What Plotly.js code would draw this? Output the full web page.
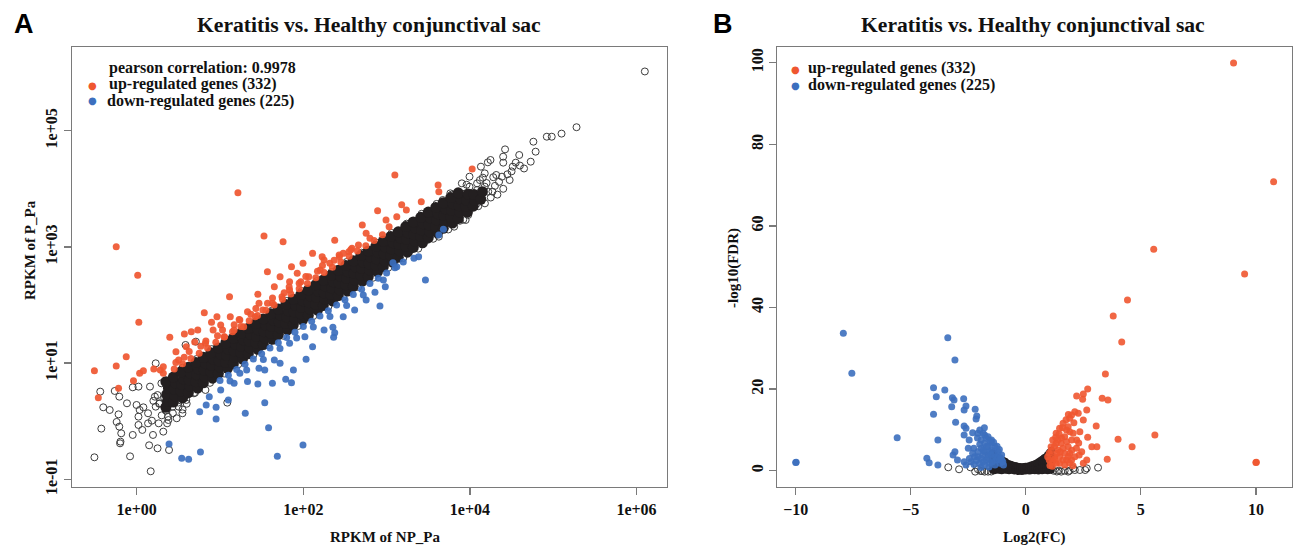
<!DOCTYPE html>
<html><head><meta charset="utf-8">
<script src="https://cdn.plot.ly/plotly-3.0.1.min.js"></script>
<style>html,body{margin:0;padding:0;background:#fff}#chart{width:1294px;height:548px}</style>
</head><body><div id="chart"></div>
<script>
// ---------- Panel A: [log10(RPKM of NP_Pa), log10(RPKM of P_Pa)] ----------
const denseA = [
[0.35,0.24],[0.37,0.35],[0.36,0.46],[0.38,0.57],[0.35,0.68],
[0.44,0.33],[0.46,0.43],[0.45,0.55],[0.47,0.65],[0.44,0.76],
[0.55,0.40],[0.53,0.52],[0.54,0.63],[0.56,0.73],[0.53,0.85],
[0.62,0.49],[0.64,0.60],[0.63,0.71],[0.65,0.82],[0.62,0.93],
[0.73,0.57],[0.71,0.68],[0.72,0.80],[0.74,0.90],[0.71,1.01],
[0.80,0.66],[0.82,0.76],[0.81,0.88],[0.83,0.99],[0.80,1.10],
[0.91,0.74],[0.89,0.85],[0.90,0.96],[0.92,1.07],[0.89,1.18],
[0.98,0.82],[1.00,0.93],[0.99,1.04],[1.01,1.15],[0.98,1.26],
[1.09,0.91],[1.07,1.01],[1.08,1.13],[1.10,1.24],[1.07,1.35],
[1.16,0.99],[1.18,1.10],[1.17,1.21],[1.19,1.32],[1.16,1.43],
[1.27,1.07],[1.25,1.18],[1.26,1.29],[1.28,1.40],[1.25,1.51],
[1.34,1.16],[1.36,1.26],[1.35,1.38],[1.37,1.49],[1.34,1.60],
[1.45,1.24],[1.43,1.35],[1.44,1.46],[1.46,1.57],[1.43,1.68],
[1.52,1.32],[1.54,1.43],[1.53,1.54],[1.55,1.65],[1.52,1.76],
[1.63,1.41],[1.61,1.51],[1.62,1.63],[1.64,1.74],[1.61,1.85],
[1.70,1.49],[1.72,1.60],[1.71,1.71],[1.73,1.82],[1.70,1.93],
[1.81,1.57],[1.79,1.68],[1.80,1.79],[1.82,1.90],[1.79,2.01],
[1.88,1.66],[1.90,1.76],[1.89,1.88],[1.91,1.99],[1.88,2.10],
[1.99,1.74],[1.97,1.85],[1.98,1.96],[2.00,2.07],[1.97,2.18],
[2.06,1.82],[2.08,1.93],[2.07,2.04],[2.09,2.15],[2.06,2.26],
[2.17,1.91],[2.15,2.01],[2.16,2.13],[2.18,2.24],[2.15,2.35],
[2.24,1.99],[2.26,2.10],[2.25,2.21],[2.27,2.32],[2.24,2.43],
[2.35,2.07],[2.33,2.18],[2.34,2.29],[2.36,2.40],[2.33,2.51],
[2.42,2.16],[2.44,2.26],[2.43,2.38],[2.45,2.49],[2.42,2.60],
[2.53,2.24],[2.51,2.35],[2.52,2.46],[2.54,2.57],[2.51,2.68],
[2.60,2.32],[2.62,2.43],[2.61,2.54],[2.63,2.65],[2.60,2.76],
[2.71,2.41],[2.69,2.51],[2.70,2.63],[2.72,2.74],[2.69,2.85],
[2.78,2.49],[2.80,2.60],[2.79,2.71],[2.81,2.82],[2.78,2.93],
[2.89,2.57],[2.87,2.68],[2.88,2.79],[2.90,2.90],[2.87,3.01],
[2.96,2.66],[2.98,2.76],[2.97,2.88],[2.99,2.99],[2.96,3.10],
[3.07,2.74],[3.05,2.85],[3.06,2.96],[3.08,3.07],[3.05,3.18],
[3.14,2.82],[3.16,2.93],[3.15,3.04],[3.17,3.15],[3.14,3.26],
[3.25,2.91],[3.23,3.01],[3.24,3.13],[3.26,3.24],[3.23,3.35],
[3.32,2.99],[3.34,3.10],[3.33,3.21],[3.35,3.32],[3.32,3.43],
[3.43,3.07],[3.41,3.18],[3.42,3.29],[3.44,3.40],[3.41,3.51],
[3.50,3.16],[3.52,3.26],[3.51,3.38],[3.53,3.49],[3.50,3.60],
[3.61,3.24],[3.59,3.35],[3.60,3.46],[3.62,3.57],[3.59,3.68],
[3.68,3.32],[3.70,3.43],[3.69,3.54],[3.71,3.65],[3.68,3.76],
[3.79,3.41],[3.77,3.51],[3.78,3.63],[3.80,3.74],[3.77,3.85],
[3.86,3.49],[3.88,3.60],[3.87,3.71],[3.89,3.82],[3.86,3.93],
[3.97,3.60],[3.95,3.70],[3.96,3.80],[3.98,3.91],
[4.04,3.70],[4.06,3.80],[4.05,3.90],[4.13,3.82],[4.15,3.95]
];
const openA = [
[-0.508,-0.622],[-0.080,-0.605],[0.168,-0.863],[-0.425,-0.128],[-0.200,-0.381],[0.149,-0.415],
[0.250,-0.467],[0.388,-0.496],[-0.438,0.509],[-0.264,0.520],[-0.209,0.422],[-0.402,0.239],
[-0.324,0.193],[-0.218,0.118],[-0.241,-0.013],[-0.209,-0.094],[-0.186,-0.209],[-0.195,-0.352],
[-0.048,0.583],[0.021,0.595],[-0.048,-0.237],[0.021,-0.065],[0.035,0.193],[0.080,0.239],
[0.136,0.136],[0.182,0.009],[0.195,-0.237],[0.264,-0.037],[0.218,0.422],[0.228,0.996],
[0.586,1.312],[0.710,1.369],[0.375,0.078],[0.434,0.136],[1.087,0.319],[0.159,0.595],
[0.296,0.652],[0.021,0.078],[-0.117,0.308],[0.067,-0.151],[0.319,-0.180],[0.457,0.422],
[0.503,0.250],[0.595,0.365],[0.365,-0.037],[0.687,0.480],[0.825,0.537],[0.136,-0.037],
[0.549,0.136],[-0.002,0.279],[0.273,0.308],[0.228,0.250],
[0.30,0.10],[0.35,0.18],[0.27,0.30],[0.33,0.40],[0.43,0.25],[0.50,0.32],[0.25,0.45],
[0.20,0.35],[0.40,0.55],[0.45,0.45],[0.38,0.02],[0.48,0.05],[0.55,0.20],[0.60,0.30],
[0.70,0.49],[0.88,0.66],[1.05,0.82],[1.22,0.98],[1.40,1.14],[1.58,1.31],[1.76,1.47],
[1.94,1.64],[2.12,1.81],[2.30,1.97],[2.48,2.14],[2.66,2.31],[2.84,2.47],[3.02,2.64],
[3.20,2.81],[3.38,2.97],[3.56,3.14],[3.74,3.30],[3.92,3.47],
[0.55,0.92],[0.72,1.07],[0.90,1.24],[1.08,1.40],[1.26,1.57],[1.44,1.74],[1.62,1.90],
[1.80,2.07],[1.98,2.24],[2.16,2.41],[2.34,2.57],[2.52,2.74],[2.70,2.90],[2.88,3.07],
[3.06,3.24],[3.24,3.40],[3.42,3.57],[3.60,3.74],[3.78,3.90],[3.96,4.07],
[3.443,3.291],[3.581,3.406],[3.673,3.578],[3.765,3.693],[3.857,3.865],[3.949,3.922],
[3.995,4.037],[4.086,4.094],[4.132,4.381],[4.215,4.456],[4.247,4.496],[4.155,4.192],
[4.270,3.951],[4.316,4.238],[4.385,4.209],[4.477,4.151],[4.422,4.679],[4.399,4.553],
[4.514,4.381],[4.592,4.582],[4.730,4.467],[4.762,4.811],[4.789,4.639],[4.923,4.897],
[4.982,4.897],[4.041,3.807],[3.949,3.693],[3.857,3.578],[3.719,3.463],[4.086,3.979],
[4.178,4.037],[3.903,4.094],[3.995,4.209],[4.178,4.266],[3.765,3.922],[3.673,3.807],
[3.627,3.176],[3.489,3.119],[3.811,3.348],[3.949,3.463],[4.086,3.750],
[4.22,3.95],[4.30,4.05],[4.35,4.12],[4.40,4.00],[4.45,4.25],[4.50,4.30],[4.28,4.20],
[4.20,4.10],[4.12,4.15],[4.60,4.40],[4.65,4.35],[4.55,4.45],[4.40,4.45],[4.33,3.90],
[4.25,3.85],[4.18,3.75],[4.10,3.70],[3.98,3.55],[3.88,3.45],
[5.10,4.95],[5.28,5.06],[6.10,6.02]
];
const upA = [
[1.215,3.933],[3.099,4.237],[-0.246,3.004],[0.012,2.511],[0.025,1.702],[-0.126,1.111],
[-0.246,0.950],[-0.508,0.870],[-0.461,0.405],[-0.218,0.566],[-0.039,0.698],[0.035,0.824],
[0.080,0.870],[0.205,0.899],[0.283,0.881],[0.319,0.939],[0.397,1.444],[0.471,1.197],
[0.572,1.501],[0.655,1.541],[0.696,1.363],[0.811,1.868],[0.898,1.702],[1.114,2.144],
[1.528,3.188],[1.757,3.090],[1.569,2.574],[1.454,2.184],[1.721,2.488],[1.858,2.660],
[1.996,2.717],[2.111,2.889],[2.226,2.832],[2.377,3.113],[2.479,2.889],[2.584,2.975],
[2.708,3.377],[2.754,3.234],[2.892,3.624],[2.993,3.463],[3.181,3.727],[3.237,3.635],
[3.416,3.779],[3.618,4.065],[3.627,3.951],[4.027,4.341],
[1.123,1.799],[1.238,1.742],[1.330,1.885],[1.008,1.656],[0.917,1.570],[1.169,1.570],
[1.284,1.627],[1.422,1.799],[1.514,1.914],[1.629,2.029],[1.744,2.144],[1.835,2.258],
[1.950,2.373],[2.065,2.488],[2.203,2.602],[2.318,2.717],[2.433,2.832],[2.547,2.918],
[2.662,3.033],[2.800,3.147],[3.030,3.348],[3.122,3.520],[1.652,2.316],[1.927,2.545],
[1.835,2.402],[2.249,2.775],[1.468,2.029],[1.054,1.455],[0.825,1.340],[0.595,1.283],
[0.503,1.054],[0.319,0.824],[0.733,1.570],[0.963,1.799],
[0.45,0.90],[0.47,1.01],[0.55,0.99],[0.57,1.10],[0.65,1.08],[0.63,1.20],[0.75,1.17],
[0.77,1.29],[0.85,1.26],[0.83,1.38],[0.95,1.36],[0.97,1.47],[1.05,1.45],[1.03,1.57],
[1.15,1.54],[1.17,1.66],[1.25,1.63],[1.23,1.75],[1.35,1.73],[1.37,1.84],[1.45,1.82],
[1.43,1.94],[1.55,1.91],[1.57,2.03],[1.65,2.00],[1.63,2.12],[1.75,2.10],[1.77,2.21],
[1.85,2.19],[1.83,2.31],[1.95,2.28],[1.97,2.40],[2.05,2.37],[2.03,2.49],[2.15,2.47],
[2.17,2.58],[2.25,2.56],[2.23,2.68],[2.35,2.65],[2.37,2.77],[2.45,2.74],[2.43,2.86],
[2.55,2.84],[2.57,2.95],[2.65,2.93],[2.75,3.02],[2.85,3.11],[2.95,3.21]
];
const downA = [
[3.466,2.430],[2.920,1.983],[2.984,2.316],[2.860,2.218],[2.961,2.430],[2.355,1.616],
[2.364,1.444],[2.377,1.524],[2.033,1.065],[1.996,-0.409],[1.688,-0.605],[1.583,-0.111],
[1.303,0.136],[1.537,0.319],[1.629,0.652],[1.789,0.721],[1.858,0.663],[1.881,0.881],
[1.721,0.996],[1.468,0.910],[1.330,0.681],[1.454,0.640],[0.953,0.038],[0.953,0.239],
[1.100,0.365],[0.834,0.279],[0.756,0.164],[0.765,-0.530],[0.540,-0.639],[0.623,-0.656],
[0.388,-0.392],[3.627,3.205],[3.682,3.302],[3.384,2.832],[3.328,2.803],[3.122,2.660],
[3.076,2.729],[2.111,1.283],[2.019,1.455],[1.835,1.340],[1.652,1.053],[1.537,0.881],
[1.238,0.824],[1.169,0.652],[1.008,0.537],[0.871,0.422],[2.249,1.570],[2.479,1.799],
[2.616,1.914],[2.754,2.086],
[1.00,0.70],[1.10,0.79],[1.12,0.69],[1.20,0.89],[1.30,0.98],[1.32,0.88],[1.40,1.07],
[1.50,1.16],[1.52,1.06],[1.60,1.26],[1.70,1.35],[1.72,1.25],[1.80,1.44],[1.90,1.53],
[1.92,1.43],[2.00,1.63],[2.10,1.72],[2.12,1.62],[2.20,1.81],[2.30,1.90],[2.32,1.80],
[2.40,2.00],[2.50,2.09],[2.52,1.99],[2.60,2.18],[2.70,2.27],[2.72,2.17],[2.80,2.37],
[2.90,2.46],[3.00,2.55],[3.10,2.64],[3.20,2.74]
];
const tickValsA = [1, 100, 10000, 1000000];
const tickTextA = ['1e+00','1e+02','1e+04','1e+06'];
const tickValsAy = [0.1, 10, 1000, 100000];
const tickTextAy = ['1e-01','1e+01','1e+03','1e+05'];

// ---------- Panel B: [Log2(FC), -log10(FDR)] ----------
const coreB = [
[-1.45,0.2],[-1.45,1.2],[-1.45,2.3],[-1.45,3.4],[-1.45,4.4],
[-1.37,0.0],[-1.37,1.0],[-1.37,2.0],[-1.37,3.0],[-1.37,4.0],
[-1.29,0.3],[-1.29,1.3],[-1.29,2.3],[-1.29,3.3],
[-1.21,0.1],[-1.21,1.1],[-1.21,2.1],[-1.21,3.1],
[-1.13,0.2],[-1.13,1.2],[-1.13,2.2],[-1.13,2.9],
[-1.05,0.0],[-1.05,1.0],[-1.05,2.0],[-1.05,2.7],
[-0.97,0.3],[-0.97,1.2],[-0.97,2.1],[-0.97,2.5],
[-0.89,0.1],[-0.89,1.0],[-0.89,1.9],[-0.89,2.3],
[-0.81,0.2],[-0.81,1.1],[-0.81,1.9],[-0.73,0.0],[-0.73,0.9],[-0.73,1.7],
[-0.65,0.2],[-0.65,1.0],[-0.65,1.6],[-0.57,0.1],[-0.57,0.8],[-0.57,1.4],
[-0.49,-0.1],[-0.49,0.7],[-0.49,1.3],[-0.41,0.1],[-0.41,0.8],[-0.41,1.2],
[-0.33,-0.2],[-0.33,0.5],[-0.33,1.0],[-0.25,0.0],[-0.25,0.6],[-0.25,1.0],
[-0.17,-0.2],[-0.17,0.4],[-0.17,0.9],[-0.09,0.0],[-0.09,0.6],[-0.09,1.0],
[-0.01,-0.1],[-0.01,0.5],[-0.01,1.1],[0.07,0.1],[0.07,0.7],[0.07,1.1],
[0.15,-0.1],[0.15,0.6],[0.15,1.2],[0.23,0.0],[0.23,0.8],[0.23,1.4],
[0.31,0.2],[0.31,0.9],[0.31,1.5],[0.39,0.0],[0.39,0.8],[0.39,1.7],
[0.47,0.1],[0.47,1.0],[0.47,1.9],
[0.55,-0.1],[0.55,0.9],[0.55,1.8],[0.55,2.2],
[0.63,0.2],[0.63,1.1],[0.63,2.0],[0.63,2.5],
[0.71,0.0],[0.71,1.0],[0.71,2.0],[0.71,2.8],
[0.79,0.1],[0.79,1.2],[0.79,2.3],[0.79,3.2],
[0.87,0.2],[0.87,1.3],[0.87,2.4],[0.87,3.4],
[0.95,0.0],[0.95,1.1],[0.95,2.2],[0.95,3.3],[0.95,4.0],
[1.03,0.1],[1.03,1.3],[1.03,2.5],[1.03,3.6],[1.03,4.5],
[1.11,0.2],[1.11,1.4],[1.11,2.6],[1.11,3.8],[1.11,5.0]
];
const openB = [
[-3.37,0.83],[-2.90,0.34],[-2.41,0.83],[-2.20,-0.23],[-1.97,-0.07],[-1.79,-0.23],
[1.69,0.01],[2.06,0.58],[2.13,0.17],[2.58,0.17],[2.65,0.58],[3.14,0.75],[1.44,0.01],
[1.84,-0.23],[-2.08,0.34],[-1.64,-0.23],[1.54,-0.23],[2.35,0.17],[-1.90,-0.10],
[-1.50,-0.20],[1.20,0.00],[1.35,-0.20],[1.90,0.00]
];
const upB = [
[9.03,99.9],[10.77,70.8],[5.56,54.3],[9.51,48.2],
[4.42,41.84],[3.80,37.92],[4.17,31.55],[3.46,23.70],[3.32,17.74],[3.57,17.33],[5.61,8.75],
[4.01,7.69],[4.62,5.89],[3.54,2.79],[2.69,20.03],[2.50,18.80],[2.21,18.31],[2.47,17.49],
[2.65,14.88],[3.06,10.96],[2.69,8.18],[2.87,5.89],[3.09,5.89],[2.43,4.67],[2.32,3.85],
[2.65,2.62],[2.50,1.81],[2.28,14.06],[2.13,14.47],[1.99,13.65],[2.50,12.43],[1.91,12.84],
[2.09,11.78],[1.84,10.80],[2.35,9.57],[2.21,7.53],[10.0,2.0],[10.02,2.05],
[1.02,4.26],[1.10,5.89],[1.17,7.53],[1.32,9.16],[1.47,10.39],[1.62,11.62],[1.77,9.98],
[1.69,8.34],[1.54,6.71],[1.40,5.08],[1.25,3.44],[1.17,2.22],[1.47,1.81],[1.77,2.62],
[1.91,4.26],[1.84,5.89],[1.99,7.53],[2.06,9.16],[1.69,4.26],[1.47,3.44],[1.32,6.71],
[1.62,5.48],[1.77,7.12],[1.91,9.57],[1.99,2.62],[2.13,3.44],[1.62,2.62],[1.02,2.62],
[1.32,1.81],[1.69,1.40],[0.95,3.44],
[1.05,1.3],[1.15,1.1],[1.25,2.8],[1.35,4.3],[1.50,4.6],[1.55,8.0],[1.40,7.6],[1.25,6.0],
[1.10,4.9],[1.85,3.5],[2.00,5.0],[2.20,5.5],[2.30,6.8],[1.90,1.9],[2.05,1.2],[1.60,10.5],
[1.75,12.5],[1.85,13.8],[1.30,8.2],[1.45,9.0]
];
const downB = [
[-10.0,2.0],[-9.98,2.05],[-7.93,33.67],[-7.56,23.87],[-5.59,8.10],[-4.01,20.35],[-3.89,18.15],
[-3.52,19.78],[-3.39,32.61],[-3.08,27.13],[-3.19,17.90],[-3.12,17.33],[-2.70,17.66],
[-2.60,15.86],[-2.68,14.88],[-2.20,15.04],[-2.13,13.41],[-2.16,12.67],[-3.22,15.70],
[-4.01,13.82],[-3.05,11.86],[-3.82,7.53],[-2.68,10.96],[-2.60,10.39],[-2.68,8.75],
[-2.46,7.53],[-2.31,9.32],[-2.08,9.16],[-1.79,8.75],[-2.26,5.48],[-3.08,4.67],[-3.16,3.85],
[-2.97,2.62],[-2.68,2.22],[-4.30,3.03],[-4.20,1.97],[-3.82,1.40],[-2.60,1.40],
[-1.94,7.53],[-1.79,6.71],[-1.64,5.89],[-1.49,5.08],[-1.34,4.26],[-1.20,3.44],[-1.05,2.62],
[-1.94,5.48],[-1.86,3.85],[-1.72,2.62],[-1.57,1.81],[-1.34,1.40],[-1.12,1.81],[-2.08,3.44],
[-2.01,1.81],[-1.42,3.03],[-1.64,3.85],[-1.79,4.67],[-1.49,6.71],[-1.71,7.93],[-1.86,9.16],
[-1.27,2.62],[-0.97,1.40],[-1.94,3.03],[-2.08,4.67],[-2.23,3.44],[-2.38,2.22],[-2.31,4.26],
[-1.20,4.67],[-1.05,3.85],[-1.64,8.34],[-1.49,7.53],[-1.34,5.89],[-1.57,4.67],[-1.79,1.40],
[-1.15,5.2],[-1.25,6.0],[-1.40,7.0],[-1.55,7.3],[-1.70,6.0],[-1.85,5.0],[-2.00,6.5],
[-2.10,8.0],[-2.00,10.0],[-1.80,10.5],[-1.95,0.8],[-1.60,0.9],[-1.45,2.2],[-1.30,3.3],
[-1.15,2.7],[-2.15,2.5],[-2.45,3.0],[-2.50,5.5],[-1.65,3.2],[-1.50,4.0],[-1.85,2.2],
[-2.25,1.5],[-1.00,2.2],[-1.10,3.2]
];
const tickValsB = [-10, -5, 0, 5, 10];
const tickValsBy = [0, 20, 40, 60, 80, 100];

// ---------- texts ----------
const panelTitle = 'Keratitis vs. Healthy conjunctival sac';
const legendUp = 'up-regulated genes (332)';
const legendDown = 'down-regulated genes (225)';
const pearsonText = 'pearson correlation: 0.9978';

// ---------- drawing ----------
const W = 1294, H = 548;
const px = x => x / W, py = y => 1 - y / H;
const SERIF = '"Liberation Serif", "Times New Roman", serif';
const SANS = '"Liberation Sans", Arial, sans-serif';
const RED = '#EF5630', BLUE = '#3C6FBE', BLACK = '#231F20', OPEN = '#3d3d3d';
const lin = (arr, i) => arr.map(p => p[i]);
const exp10 = (arr, i) => arr.map(p => Math.pow(10, p[i]));

function sc(arr, isLog, ax, marker) {
  return {
    type: 'scatter', mode: 'markers',
    x: isLog ? exp10(arr, 0) : lin(arr, 0),
    y: isLog ? exp10(arr, 1) : lin(arr, 1),
    xaxis: ax[0], yaxis: ax[1], marker: marker, hoverinfo: 'skip'
  };
}
const openMk = {symbol: 'circle-open', size: 7, color: OPEN, line: {width: 1, color: OPEN}};
const traces = [
  sc(openA, true, ['x','y'], openMk),
  sc(denseA, true, ['x','y'], {symbol: 'circle', size: 11, color: BLACK}),
  sc(upA, true, ['x','y'], {symbol: 'circle', size: 7, color: RED, opacity: 0.92}),
  sc(downA, true, ['x','y'], {symbol: 'circle', size: 7, color: BLUE, opacity: 0.92}),
  sc(openB, false, ['x2','y2'], openMk),
  sc(coreB, false, ['x2','y2'], {symbol: 'circle', size: 7, color: BLACK}),
  sc(upB, false, ['x2','y2'], {symbol: 'circle', size: 7, color: RED, opacity: 0.9}),
  sc(downB, false, ['x2','y2'], {symbol: 'circle', size: 7, color: BLUE, opacity: 0.9})
];

const tickFont = {family: SERIF, size: 16, color: '#111', weight: 'bold'};
const axisBase = {
  showgrid: false, zeroline: false, showline: true, mirror: true,
  linecolor: '#7a7a7a', linewidth: 1.3, ticks: 'outside', ticklen: 7,
  tickcolor: '#7a7a7a', tickwidth: 1.3, tickfont: tickFont, fixedrange: true
};
const domY = [py(487), py(47)];

const layout = {
  width: W, height: H, margin: {l: 0, r: 0, t: 0, b: 0},
  paper_bgcolor: '#fff', plot_bgcolor: '#fff', showlegend: false,
  xaxis: Object.assign({}, axisBase, {type: 'log', anchor: 'y', domain: [px(72), px(667)],
    range: [-0.777, 6.366], tickvals: tickValsA, ticktext: tickTextA}),
  yaxis: Object.assign({}, axisBase, {type: 'log', anchor: 'x', domain: domY,
    range: [-1.133, 6.441], tickvals: tickValsAy, ticktext: tickTextAy, tickangle: -90}),
  xaxis2: Object.assign({}, axisBase, {anchor: 'y2', domain: [px(777.3), px(1292)],
    range: [-10.80, 11.57], tickvals: tickValsB}),
  yaxis2: Object.assign({}, axisBase, {anchor: 'x2', domain: domY,
    range: [-3.995, 103.85], tickvals: tickValsBy, tickangle: -90}),
  annotations: []
};

function ann(text, x, y, opts) {
  layout.annotations.push(Object.assign({
    text: text, xref: 'paper', yref: 'paper', x: px(x), y: py(y),
    showarrow: false, xanchor: 'center', yanchor: 'middle',
    font: {family: SERIF, size: 16, color: '#111', weight: 'bold'}
  }, opts || {}));
}
const axTitleFont = {family: SERIF, size: 15, color: '#111', weight: 'bold'};
ann('A', 24, 24, {font: {family: SANS, size: 27, color: '#000', weight: 'bold'}});
ann('B', 723, 24, {font: {family: SANS, size: 27, color: '#000', weight: 'bold'}});
ann(panelTitle, 369, 25, {font: {family: SERIF, size: 21.6, color: '#111', weight: 'bold'}});
ann(panelTitle, 1033, 25, {font: {family: SERIF, size: 21.6, color: '#111', weight: 'bold'}});
ann('RPKM of NP_Pa', 385, 537, {font: axTitleFont});
ann('RPKM of P_Pa', 30, 250, {textangle: -90, font: axTitleFont});
ann('Log2(FC)', 1034, 537, {font: axTitleFont});
ann('-log10(FDR)', 733, 268, {textangle: -90, font: axTitleFont});
// legends
ann(pearsonText, 107, 68, {xanchor: 'left'});
ann('●', 92, 85, {font: {family: 'DejaVu Sans', size: 10, color: RED}});
ann(legendUp, 107, 84, {xanchor: 'left'});
ann('●', 92, 101, {font: {family: 'DejaVu Sans', size: 10, color: BLUE}});
ann(legendDown, 105, 101, {xanchor: 'left'});
ann('●', 796, 69, {font: {family: 'DejaVu Sans', size: 10, color: RED}});
ann(legendUp, 806, 68, {xanchor: 'left'});
ann('●', 796, 86, {font: {family: 'DejaVu Sans', size: 10, color: BLUE}});
ann(legendDown, 806, 85, {xanchor: 'left'});

Plotly.newPlot('chart', traces, layout, {staticPlot: true, displayModeBar: false});
</script>
</body></html>
